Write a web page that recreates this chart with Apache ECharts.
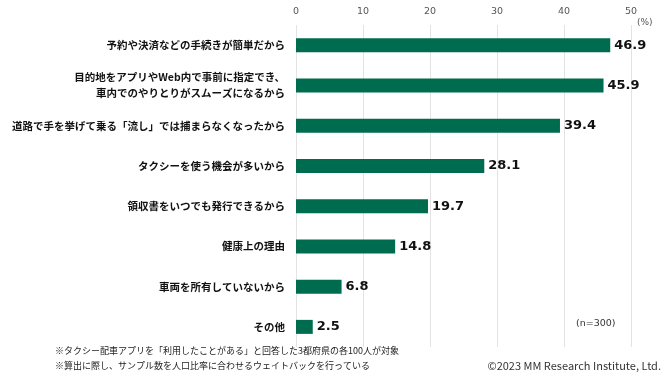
<!DOCTYPE html>
<html>
<head>
<meta charset="utf-8">
<script src="https://cdn.jsdelivr.net/npm/echarts@6/dist/echarts.min.js"></script>
<style>
html,body{margin:0;padding:0;background:#fff;}
#main{width:665px;height:375px;}
</style>
</head>
<body>
<div id="main"></div>
<script>
var categories = [
    '予約や決済などの手続きが簡単だから',
    '目的地をアプリやWeb内で事前に指定でき、\n車内でのやりとりがスムーズになるから',
    '道路で手を挙げて乗る「流し」では捕まらなくなったから',
    'タクシーを使う機会が多いから',
    '領収書をいつでも発行できるから',
    '健康上の理由',
    '車両を所有していないから',
    'その他'
];
var values = [46.9, 45.9, 39.4, 28.1, 19.7, 14.8, 6.8, 2.5];
var notes = [
    '※タクシー配車アプリを「利用したことがある」と回答した3都府県の各100人が対象',
    '※算出に際し、サンプル数を人口比率に合わせるウェイトバックを行っている'
];

var myChart = echarts.init(document.getElementById('main'));
var fontJP = '"Noto Sans CJK JP", sans-serif';
var fontNum = 'Verdana, "DejaVu Sans", sans-serif';

var option = {
    backgroundColor: '#ffffff',
    textStyle: {fontFamily: fontJP},
    grid: {left: 296, right: 34, top: 25, bottom: 28, containLabel: false},
    xAxis: {
        type: 'value',
        position: 'top',
        min: 0,
        max: 50,
        interval: 10,
        axisLine: {show: false},
        axisTick: {show: false},
        axisLabel: {color: '#555', fontSize: 9.5, margin: 8, fontFamily: fontNum},
        splitLine: {show: true, lineStyle: {color: '#e3e3e3', width: 1}}
    },
    yAxis: {
        type: 'category',
        inverse: true,
        data: categories,
        axisLine: {show: false},
        axisTick: {show: false},
        axisLabel: {
            color: '#111',
            fontSize: 10.5,
            fontWeight: 'bold',
            margin: 11,
            lineHeight: 16
        }
    },
    series: [{
        type: 'bar',
        data: values,
        barWidth: 14,
        itemStyle: {color: '#006C4F'},
        label: {
            show: true,
            position: 'right',
            distance: 4,
            color: '#111',
            fontSize: 13,
            fontWeight: 'bold',
            fontFamily: fontNum,
            formatter: function (p) { return p.value.toFixed(1); }
        }
    }],
    graphic: [
        {type: 'text', left: 637, top: 18, style: {text: '(%)', fontSize: 9, fill: '#555', fontFamily: fontNum}},
        {type: 'text', left: 576, top: 319, style: {text: '(n=300)', fontSize: 9.5, fill: '#333', fontFamily: fontNum}},
        {type: 'text', left: 55, top: 346, style: {text: notes[0], fontSize: 9, fill: '#222', fontFamily: fontJP}},
        {type: 'text', left: 55, top: 361, style: {text: notes[1], fontSize: 9, fill: '#222', fontFamily: fontJP}},
        {type: 'text', right: 4, top: 360, style: {text: '©2023 MM Research Institute, Ltd.', fontSize: 11, fill: '#333', fontFamily: fontJP}}
    ]
};
myChart.setOption(option);
</script>
</body>
</html>
